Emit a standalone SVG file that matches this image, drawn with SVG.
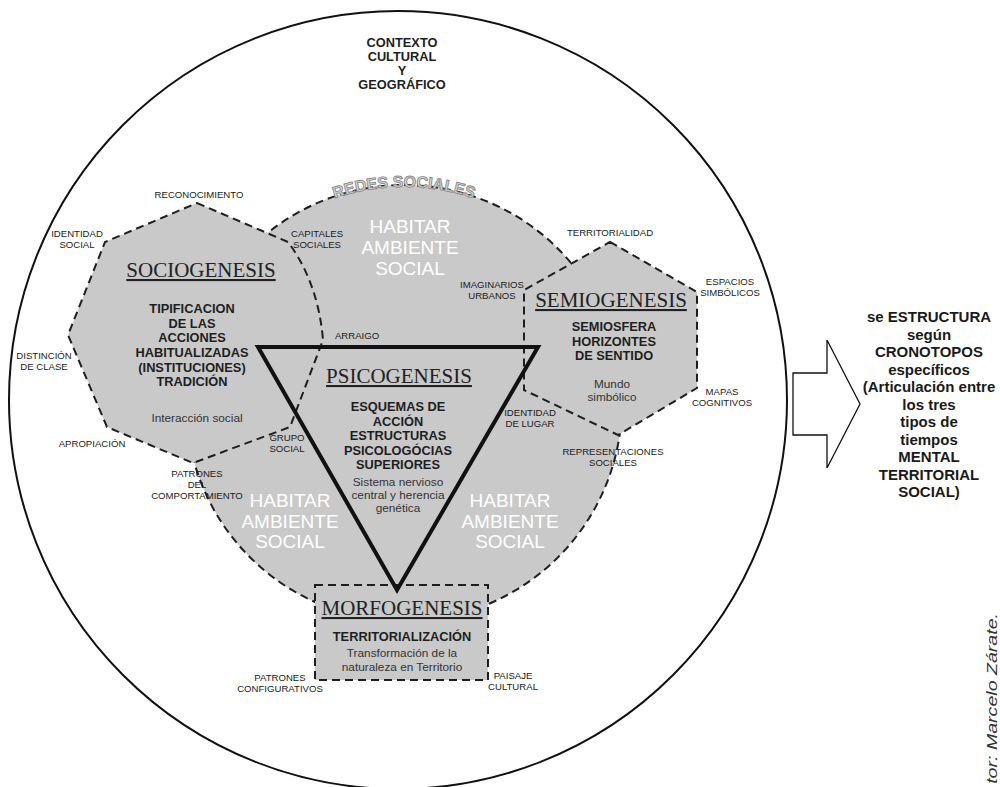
<svg xmlns="http://www.w3.org/2000/svg" width="1000" height="787" viewBox="0 0 1000 787">
<defs>
<style>
.dash{fill:#c9c9c9;stroke:#1e1e1e;stroke-width:2;stroke-dasharray:8 5}
.lbl{font-family:"Liberation Sans",Arial,sans-serif;font-size:9.6px;fill:#1a1a1a;text-anchor:middle}
.ttl{font-family:"Liberation Serif","Times New Roman",serif;font-size:21px;fill:#222;text-anchor:middle;text-decoration:underline}
.bold{font-family:"Liberation Sans",Arial,sans-serif;font-size:12.8px;font-weight:bold;fill:#1e1e1e;text-anchor:middle}
.reg{font-family:"Liberation Sans",Arial,sans-serif;font-size:11.8px;fill:#333;text-anchor:middle}
.hab{font-family:"Liberation Sans",Arial,sans-serif;font-size:19px;fill:#ffffff;text-anchor:middle}
.side{font-family:"Liberation Sans",Arial,sans-serif;font-size:15px;font-weight:bold;fill:#1a1a1a;text-anchor:middle}
</style>
<path id="redesArc" d="M 265.8,237.3 A 215 215 0 0 1 542.2,237.3"/>
</defs>

<g id="contexto">
<circle cx="398" cy="400" r="389" fill="#ffffff" stroke="#111" stroke-width="2"/>
<text class="bold" x="402" y="47">CONTEXTO</text>
<text class="bold" x="402" y="61">CULTURAL</text>
<text class="bold" x="402" y="75">Y</text>
<text class="bold" x="402" y="89">GEOGRÁFICO</text>
</g>

<g id="habitar">
<circle class="dash" cx="404" cy="403" r="218"/>
</g>

<g id="sociogenesis">
<path class="dash" d="M197,203 L288,242 Q318,282 323,340 L290,427 L193,463 L107,427 L68,335 L105,242 Z"/>
</g>

<g id="semiogenesis">
<path class="dash" d="M610,242 L697,292 L697,388 L618,435 L524,390 L524,290 Z"/>
</g>

<g id="morfogenesis">
<rect class="dash" x="315" y="585" width="173" height="95"/>
</g>

<g id="psicogenesis">
<path d="M258,347 L538,347 L397,590 Z" fill="none" stroke="#111" stroke-width="4" stroke-linejoin="miter"/>
</g>

<g id="redes">
<text font-family="'Liberation Sans',Arial,sans-serif" font-size="16" font-weight="bold" fill="#d6d6d6" stroke="#8a8a8a" stroke-width="0.9" text-anchor="middle"><textPath href="#redesArc" startOffset="50%">REDES SOCIALES</textPath></text>
</g>

<g id="habitar-text">
<text class="hab" x="410" y="233">HABITAR</text>
<text class="hab" x="410" y="254">AMBIENTE</text>
<text class="hab" x="410" y="275">SOCIAL</text>
<text class="hab" x="290" y="507">HABITAR</text>
<text class="hab" x="290" y="528">AMBIENTE</text>
<text class="hab" x="290" y="548">SOCIAL</text>
<text class="hab" x="510" y="507">HABITAR</text>
<text class="hab" x="510" y="528">AMBIENTE</text>
<text class="hab" x="510" y="548">SOCIAL</text>
</g>

<g id="socio-text">
<text class="ttl" x="201" y="277">SOCIOGENESIS</text>
<text class="bold" x="192" y="313">TIPIFICACION</text>
<text class="bold" x="192" y="328">DE LAS</text>
<text class="bold" x="192" y="342">ACCIONES</text>
<text class="bold" x="192" y="357">HABITUALIZADAS</text>
<text class="bold" x="192" y="372">(INSTITUCIONES)</text>
<text class="bold" x="192" y="386">TRADICIÓN</text>
<text class="reg" x="197" y="422">Interacción social</text>
<text class="lbl" x="199" y="198">RECONOCIMIENTO</text>
<text class="lbl" x="77" y="237">IDENTIDAD</text>
<text class="lbl" x="77" y="248">SOCIAL</text>
<text class="lbl" x="317" y="237">CAPITALES</text>
<text class="lbl" x="317" y="248">SOCIALES</text>
<text class="lbl" x="357" y="339">ARRAIGO</text>
<text class="lbl" x="44" y="359">DISTINCIÓN</text>
<text class="lbl" x="44" y="370">DE CLASE</text>
<text class="lbl" x="92" y="447">APROPIACIÓN</text>
<text class="lbl" x="197" y="477">PATRONES</text>
<text class="lbl" x="197" y="488">DEL</text>
<text class="lbl" x="197" y="499">COMPORTAMIENTO</text>
<text class="lbl" x="287" y="441">GRUPO</text>
<text class="lbl" x="287" y="452">SOCIAL</text>
</g>

<g id="semio-text">
<text class="ttl" x="611" y="307">SEMIOGENESIS</text>
<text class="bold" x="614" y="331">SEMIOSFERA</text>
<text class="bold" x="614" y="346">HORIZONTES</text>
<text class="bold" x="614" y="360">DE SENTIDO</text>
<text class="reg" x="612" y="388">Mundo</text>
<text class="reg" x="612" y="401">simbólico</text>
<text class="lbl" x="610" y="236">TERRITORIALIDAD</text>
<text class="lbl" x="730" y="285">ESPACIOS</text>
<text class="lbl" x="730" y="296">SIMBÓLICOS</text>
<text class="lbl" x="722" y="395">MAPAS</text>
<text class="lbl" x="722" y="406">COGNITIVOS</text>
<text class="lbl" x="492" y="288">IMAGINARIOS</text>
<text class="lbl" x="492" y="299">URBANOS</text>
<text class="lbl" x="530" y="416" font-size="9">IDENTIDAD</text>
<text class="lbl" x="530" y="427" font-size="9">DE LUGAR</text>
<text class="lbl" x="613" y="455">REPRESENTACIONES</text>
<text class="lbl" x="613" y="466">SOCIALES</text>
</g>

<g id="psico-text">
<text class="ttl" x="399" y="383">PSICOGENESIS</text>
<text class="bold" x="398" y="411">ESQUEMAS DE</text>
<text class="bold" x="398" y="426">ACCIÓN</text>
<text class="bold" x="398" y="440">ESTRUCTURAS</text>
<text class="bold" x="398" y="455">PSICOLOGÓCIAS</text>
<text class="bold" x="398" y="469">SUPERIORES</text>
<text class="reg" x="398" y="486">Sistema nervioso</text>
<text class="reg" x="398" y="499">central y herencia</text>
<text class="reg" x="398" y="512">genética</text>
</g>

<g id="morfo-text">
<text class="ttl" x="402" y="615">MORFOGENESIS</text>
<text class="bold" x="402" y="641">TERRITORIALIZACIÓN</text>
<text class="reg" x="402" y="657">Transformación de la</text>
<text class="reg" x="402" y="671">naturaleza en Territorio</text>
<text class="lbl" x="280" y="681">PATRONES</text>
<text class="lbl" x="280" y="692">CONFIGURATIVOS</text>
<text class="lbl" x="513" y="679">PAISAJE</text>
<text class="lbl" x="513" y="690">CULTURAL</text>
</g>

<g id="connectors">
<polygon points="793,373 827,373 827,340 860,404 827,468 827,435 793,435" fill="#ffffff" stroke="#111" stroke-width="1.3"/>
</g>

<g id="cronotopos">
<text class="side" x="929" y="322">se ESTRUCTURA</text>
<text class="side" x="929" y="339.5">según</text>
<text class="side" x="929" y="357">CRONOTOPOS</text>
<text class="side" x="929" y="374.5">específicos</text>
<text class="side" x="929" y="392">(Articulación entre</text>
<text class="side" x="929" y="409.5">los tres</text>
<text class="side" x="929" y="427">tipos de</text>
<text class="side" x="929" y="444.5">tiempos</text>
<text class="side" x="929" y="462">MENTAL</text>
<text class="side" x="929" y="479.5">TERRITORIAL</text>
<text class="side" x="929" y="497">SOCIAL)</text>
</g>

<g id="autor">
<text transform="translate(997,613) rotate(-90) scale(1.4,1)" font-family="'Liberation Sans',Arial,sans-serif" font-size="14" font-style="italic" fill="#333" text-anchor="end">tor: Marcelo Zárate.</text>
</g>
</svg>
